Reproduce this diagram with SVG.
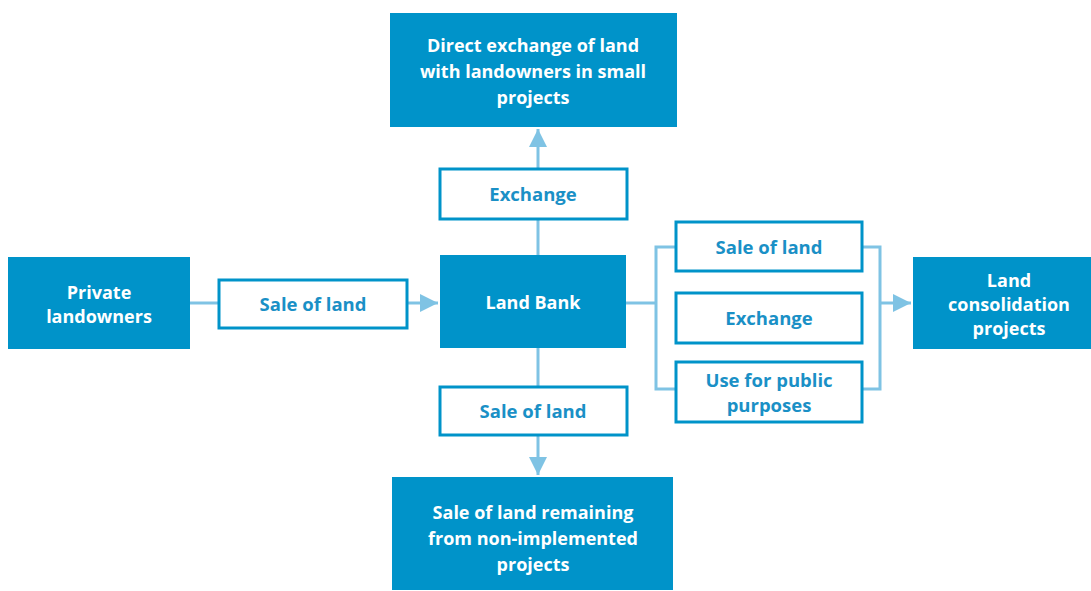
<svg xmlns="http://www.w3.org/2000/svg" width="1091" height="591" viewBox="0 0 1091 591">
<defs>
<style>
.solid{fill:#0093c9}
.lab{fill:#fff;stroke:#0093c9;stroke-width:3}
.wt{fill:#fff;font-family:"Open Sans","Liberation Sans",sans-serif;font-weight:bold;font-size:18px;text-anchor:middle}
.bt{fill:#1a90c6;font-family:"Open Sans","Liberation Sans",sans-serif;font-weight:bold;font-size:18.5px;text-anchor:middle}
.con{fill:none;stroke:#7fc3e4;stroke-width:3}
</style>
<marker id="ah" viewBox="0 0 10 10" refX="10" refY="5" markerWidth="6" markerHeight="6" markerUnits="strokeWidth" orient="auto">
<path d="M0,0 L10,5 L0,10 z" fill="#7fc3e4"/>
</marker>
</defs>
<rect width="1091" height="591" fill="#fff"/>
<g id="connectors">
<path class="con" d="M190,303 H218"/>
<path class="con" d="M407,303 H438" marker-end="url(#ah)"/>
<path class="con" d="M538,255 V219"/>
<path class="con" d="M538,168 V129" marker-end="url(#ah)"/>
<path class="con" d="M538,348 V386"/>
<path class="con" d="M538,435 V475" marker-end="url(#ah)"/>
<path class="con" d="M626,303 H656"/>
<path class="con" d="M675,247 H656 V389 H675"/>
<path class="con" d="M862,247 H880 V389 H862"/>
<path class="con" d="M880,303 H911" marker-end="url(#ah)"/>
</g>
<g id="n-top">
<rect class="solid" x="390" y="13" width="287" height="114"/>
<text class="wt" x="533" y="52">Direct exchange of land</text>
<text class="wt" x="533" y="78">with landowners in small</text>
<text class="wt" x="533" y="104">projects</text>
</g>
<g id="l-exchange-top">
<rect class="lab" x="440" y="169" width="187" height="50"/>
<text class="bt" x="533" y="201">Exchange</text>
</g>
<g id="n-landbank">
<rect class="solid" x="440" y="255" width="186" height="93"/>
<text class="wt" x="533" y="309">Land Bank</text>
</g>
<g id="n-private">
<rect class="solid" x="8" y="257" width="182" height="92"/>
<text class="wt" x="99" y="299">Private</text>
<text class="wt" x="99" y="323">landowners</text>
</g>
<g id="l-sale-left">
<rect class="lab" x="219" y="280" width="188" height="48"/>
<text class="bt" x="313" y="311">Sale of land</text>
</g>
<g id="l-sale-right">
<rect class="lab" x="676" y="222" width="186" height="49"/>
<text class="bt" x="769" y="254">Sale of land</text>
</g>
<g id="l-exchange-right">
<rect class="lab" x="676" y="293" width="186" height="50"/>
<text class="bt" x="769" y="325">Exchange</text>
</g>
<g id="l-public">
<rect class="lab" x="676" y="362" width="186" height="60"/>
<text class="bt" x="769" y="387">Use for public</text>
<text class="bt" x="769" y="412">purposes</text>
</g>
<g id="n-consolidation">
<rect class="solid" x="913" y="257" width="178" height="92"/>
<text class="wt" x="1009" y="287">Land</text>
<text class="wt" x="1009" y="311">consolidation</text>
<text class="wt" x="1009" y="335">projects</text>
</g>
<g id="l-sale-bottom">
<rect class="lab" x="440" y="387" width="187" height="48"/>
<text class="bt" x="533" y="418">Sale of land</text>
</g>
<g id="n-bottom">
<rect class="solid" x="392" y="477" width="281" height="113"/>
<text class="wt" x="533" y="519">Sale of land remaining</text>
<text class="wt" x="533" y="545">from non-implemented</text>
<text class="wt" x="533" y="571">projects</text>
</g>
</svg>
